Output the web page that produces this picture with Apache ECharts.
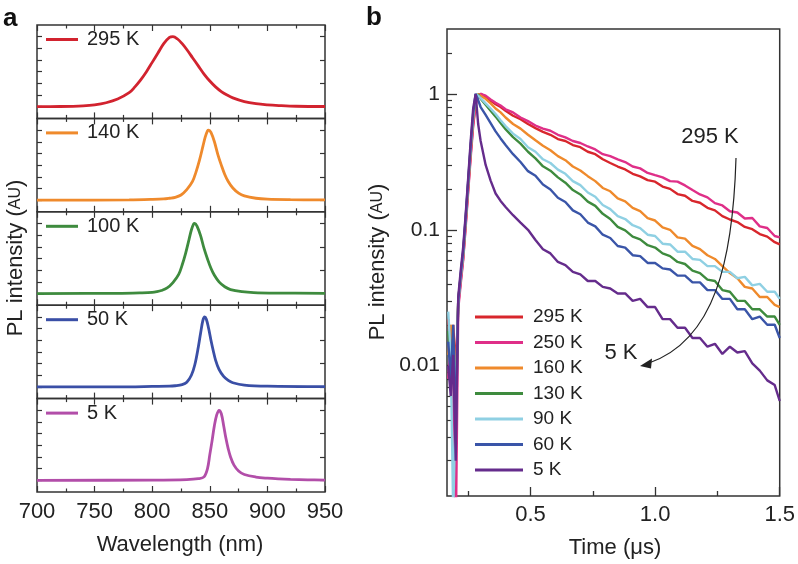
<!DOCTYPE html>
<html><head><meta charset="utf-8">
<script src="https://cdn.jsdelivr.net/npm/echarts@6/dist/echarts.min.js"></script>
<style>html,body{margin:0;padding:0;background:#fff}#c{width:798px;height:564px}</style>
</head><body><div id="c"></div>
<script>
// ---------- Panel a: PL spectra (normalised, peak = 3) ----------
const wl295 = [700,720,740,750,760,770,780,785,790,795,800,805,810,815,818,822,826,830,835,840,845,850,855,860,865,870,880,890,900,910,925,950];
const pl295 = [0,0.01,0.04,0.08,0.17,0.33,0.6,0.85,1.15,1.5,1.9,2.3,2.7,2.97,3.0,2.9,2.7,2.45,2.1,1.75,1.4,1.1,0.85,0.65,0.5,0.38,0.22,0.13,0.08,0.05,0.02,0.01];
const wl140 = [700,780,800,810,815,820,825,830,835,838,841,844,846,848,849,851,854,857,860,863,866,870,875,880,890,900,920,950];
const pl140 = [0,0.01,0.03,0.05,0.08,0.12,0.22,0.45,0.8,1.2,1.7,2.3,2.7,2.97,3.0,2.9,2.5,1.95,1.5,1.1,0.8,0.52,0.3,0.18,0.08,0.04,0.02,0.01];
const wl100 = [700,770,790,800,804,808,813,818,823,826,829,832,834,836,837,839,842,845,848,851,854,858,863,868,878,888,908,950];
const pl100 = [0,0.01,0.03,0.05,0.08,0.13,0.24,0.47,0.82,1.22,1.72,2.32,2.72,2.98,3.0,2.88,2.48,1.93,1.48,1.08,0.78,0.5,0.29,0.17,0.08,0.04,0.02,0.01];
const wl50 = [700,780,800,815,820,826,830,834,837,840,842,844,845.5,847,849,851,853,855,858,862,866,870,880,900,950];
const pl50 = [0,0.005,0.02,0.03,0.05,0.1,0.2,0.5,0.95,1.7,2.3,2.85,3.0,2.9,2.5,2.0,1.55,1.15,0.75,0.45,0.28,0.18,0.08,0.03,0.01];
const wl5 = [700,800,830,840,845,848,850,852,854,856,858,860,862,864,866,868,871,875,880,890,900,910,920,935,950];
const pl5 = [0,0.01,0.03,0.07,0.15,0.5,1.1,1.7,2.35,2.8,3.0,2.85,2.35,1.8,1.35,1.0,0.65,0.4,0.25,0.14,0.09,0.06,0.04,0.02,0.01];
const namesA = ['295 K','140 K','100 K','50 K','5 K'];
const colorsA = ['#d2232f','#ef8a2c','#3e8b3e','#3a4fa6','#b24ea9'];

// ---------- Panel b: PL decay (log scale) ----------
const time = [0.17,0.18,0.19,0.20,0.21,0.22,0.23,0.24,0.25,0.26,0.27,0.28,0.29,
  0.30,0.32,0.34,0.36,0.38,0.40,
  0.43,0.46,0.49,0.52,0.55,0.58,0.61,0.64,0.67,0.70,
  0.73,0.76,0.79,0.82,0.85,0.88,0.91,0.94,0.97,1.00,
  1.03,1.06,1.09,1.12,1.15,1.18,1.21,1.24,1.27,1.30,
  1.33,1.36,1.39,1.42,1.45,1.48,1.50];
const d295 = [0.022,0.014,0.02,0.009,0.028,0.042,0.062,0.11,0.2,0.36,0.6,0.85,0.97,
  1.0,0.95,0.89,0.84,0.8,0.75,
  0.69,0.65,0.6,0.56,0.525,0.5,0.465,0.45,0.42,0.405,
  0.375,0.36,0.33,0.31,0.292,0.278,0.258,0.247,0.232,0.226,
  0.208,0.2,0.183,0.178,0.163,0.158,0.145,0.139,0.126,0.119,
  0.114,0.105,0.101,0.093,0.089,0.081,0.078];
const d250 = [0.008,0.015,0.006,0.0005,0.026,0.04,0.06,0.105,0.19,0.34,0.58,0.83,0.96,
  1.0,0.97,0.91,0.86,0.82,0.77,
  0.73,0.67,0.63,0.585,0.555,0.535,0.5,0.478,0.45,0.435,
  0.41,0.39,0.36,0.348,0.33,0.315,0.292,0.283,0.262,0.252,
  0.243,0.228,0.226,0.212,0.196,0.182,0.173,0.157,0.151,0.137,
  0.134,0.121,0.122,0.106,0.103,0.09,0.088];
const d160 = [0.012,0.02,0.01,0.004,0.03,0.045,0.066,0.115,0.21,0.38,0.65,0.9,1.0,
  0.97,0.92,0.85,0.78,0.73,0.67,
  0.6,0.555,0.5,0.455,0.415,0.385,0.348,0.325,0.292,0.273,
  0.248,0.228,0.203,0.192,0.17,0.162,0.145,0.137,0.122,0.117,
  0.104,0.1,0.088,0.086,0.076,0.072,0.065,0.061,0.054,0.048,
  0.044,0.038,0.037,0.032,0.032,0.028,0.027];
const d130 = [0.018,0.01,0.016,0.005,0.03,0.046,0.068,0.12,0.22,0.4,0.68,0.93,0.99,
  0.92,0.83,0.75,0.68,0.61,0.55,
  0.48,0.43,0.375,0.335,0.293,0.272,0.243,0.222,0.196,0.182,
  0.161,0.15,0.131,0.12,0.105,0.099,0.089,0.085,0.077,0.074,
  0.067,0.064,0.058,0.056,0.05,0.048,0.043,0.042,0.036,0.035,
  0.03,0.03,0.026,0.026,0.023,0.023,0.02];
const d90 = [0.025,0.012,0.0008,0.006,0.029,0.045,0.067,0.12,0.22,0.4,0.68,1.0,0.97,
  0.93,0.85,0.78,0.71,0.64,0.58,
  0.51,0.465,0.405,0.375,0.33,0.31,0.277,0.258,0.228,0.213,
  0.188,0.175,0.152,0.142,0.126,0.12,0.108,0.103,0.092,0.09,
  0.079,0.078,0.069,0.069,0.061,0.06,0.054,0.054,0.049,0.049,
  0.044,0.045,0.039,0.04,0.035,0.035,0.031];
const d60 = [0.015,0.008,0.02,0.003,0.03,0.047,0.07,0.125,0.23,0.42,0.72,1.0,0.9,
  0.8,0.7,0.61,0.53,0.47,0.42,
  0.36,0.315,0.27,0.25,0.215,0.198,0.172,0.16,0.139,0.13,
  0.113,0.106,0.092,0.087,0.076,0.074,0.065,0.064,0.057,0.057,
  0.052,0.051,0.046,0.046,0.041,0.041,0.036,0.036,0.031,0.031,
  0.026,0.026,0.022,0.023,0.02,0.02,0.016];
const d5 = [0.01,0.006,0.012,0.002,0.032,0.05,0.075,0.13,0.24,0.45,0.78,1.0,0.6,
  0.45,0.3,0.23,0.185,0.163,0.147,
  0.128,0.113,0.1,0.084,0.072,0.067,0.058,0.055,0.049,0.047,
  0.042,0.042,0.038,0.037,0.034,0.034,0.03,0.031,0.027,0.027,
  0.022,0.022,0.019,0.019,0.016,0.016,0.0138,0.0145,0.0122,0.0138,
  0.0125,0.0128,0.0104,0.0092,0.0078,0.0072,0.0055];
const namesB = ['295 K','250 K','160 K','130 K','90 K','60 K','5 K'];
const colorsB = ['#d8262c','#df2f88','#ef8a2c','#3e8b3e','#8fd0e3','#3a55a8','#652c8c'];
const wlTicks = [700,750,800,850,900,950];
const wlMinorTicks = [725,775,825,875,925];
const timeTicks = [0.5,1.0,1.5];
const timeMinorTicks = [0.25,0.75,1.25];
const intensityTicks = [0.01,0.1,1];
const intensityMinorTicks = [0.002,0.003,0.004,0.005,0.006,0.007,0.008,0.009,
  0.02,0.03,0.04,0.05,0.06,0.07,0.08,0.09,0.2,0.3,0.4,0.5,0.6,0.7,0.8,0.9,2];

const FONT = 'Liberation Sans';
const AX = '#333';
const specX = [wl295,wl140,wl100,wl50,wl5];
const specY = [pl295,pl140,pl100,pl50,pl5];
const decay = [d295,d250,d160,d130,d90,d60,d5];

const PT = 25, PH = 93.4;
const grid = [], xAxis = [], yAxis = [], series = [], legend = [];
const noLine = {show:false, onZero:false};
for (let i = 0; i < 5; i++) {
  grid.push({left:37, width:288, top:PT + i*PH, height:PH, show:true, borderColor:AX, borderWidth:1.5, backgroundColor:'transparent'});
  // indices: 4i bottom-major, 4i+1 bottom-minor, 4i+2 top-major, 4i+3 top-minor
  ['bottom','top'].forEach(pos => {
    xAxis.push({type:'value', gridIndex:i, position:pos, min:700, max:950,
      axisLine:noLine, splitLine:{show:false},
      axisTick:{show:true, inside:true, length:6, customValues:wlTicks, lineStyle:{color:AX, width:1.2}},
      axisLabel:{show:(i===4 && pos==='bottom'), customValues:wlTicks, fontSize:22, color:'#222', margin:9, fontFamily:FONT}});
    xAxis.push({type:'value', gridIndex:i, position:pos, min:700, max:950,
      axisLine:noLine, splitLine:{show:false}, axisLabel:{show:false},
      axisTick:{show:true, inside:true, length:3.5, customValues:wlMinorTicks, lineStyle:{color:AX, width:1.2}}});
  });
  yAxis.push({type:'value', gridIndex:i, position:'left', min:-0.5, max:3.5,
    axisLine:noLine, splitLine:{show:false}, axisLabel:{show:false},
    axisTick:{show:true, inside:true, length:5, customValues:[0,0.5,1,1.5,2,2.5,3], lineStyle:{color:AX, width:1.2}}});
  yAxis.push({type:'value', gridIndex:i, position:'right', min:-0.5, max:3.5,
    axisLine:noLine, splitLine:{show:false}, axisLabel:{show:false},
    axisTick:{show:true, inside:true, length:5, customValues:[0,1,2,3], lineStyle:{color:AX, width:1.2}}});
  series.push({type:'line', name:namesA[i] + ' ', xAxisIndex:4*i, yAxisIndex:2*i,
    data: specX[i].map((w,k) => [w, specY[i][k]]), showSymbol:false, symbol:'none', smooth:0.35,
    color:colorsA[i], lineStyle:{color:colorsA[i], width:2.8}});
  legend.push({data:[namesA[i] + ' '], left:46, top:PT + i*PH + 4.5, padding:0, icon:'rect', itemWidth:32, itemHeight:3,
    selectedMode:false, textStyle:{fontSize:20, color:'#222', fontFamily:FONT, lineHeight:20, padding:[0,0,0,4]}});
}
// panel b (xAxis 20, 21; yAxis 10, 11)
grid.push({left:447, width:336, top:29, height:467, show:true, borderColor:AX, borderWidth:1.5, backgroundColor:'transparent'});
xAxis.push({type:'value', gridIndex:5, position:'bottom', min:0.165, max:1.5,
  axisLine:noLine, splitLine:{show:false},
  axisTick:{show:true, inside:true, length:9, customValues:timeTicks, lineStyle:{color:AX, width:1.3}},
  axisLabel:{customValues:timeTicks, formatter:v => Number(v).toFixed(1), fontSize:22, color:'#222', margin:8, fontFamily:FONT}});
xAxis.push({type:'value', gridIndex:5, position:'bottom', min:0.165, max:1.5,
  axisLine:noLine, splitLine:{show:false}, axisLabel:{show:false},
  axisTick:{show:true, inside:true, length:5, customValues:timeMinorTicks, lineStyle:{color:AX, width:1.3}}});
yAxis.push({type:'log', gridIndex:5, position:'left', min:0.0011, max:3, logBase:10,
  axisLine:noLine, splitLine:{show:false},
  axisTick:{show:true, inside:true, length:10, customValues:intensityTicks, lineStyle:{color:AX, width:1.3}},
  axisLabel:{customValues:intensityTicks, fontSize:21, color:'#222', margin:7, fontFamily:FONT,
    formatter:v => (Math.abs(v-1)<1e-6 ? '1' : Math.abs(v-0.1)<1e-6 ? '0.1' : '0.01')}});
yAxis.push({type:'log', gridIndex:5, position:'left', min:0.0011, max:3, logBase:10,
  axisLine:noLine, splitLine:{show:false}, axisLabel:{show:false},
  axisTick:{show:true, inside:true, length:5, customValues:intensityMinorTicks, lineStyle:{color:AX, width:1.2}}});
for (let j = 0; j < 7; j++) {
  series.push({type:'line', name:namesB[j], xAxisIndex:20, yAxisIndex:10,
    data: time.map((t,k) => [t, decay[j][k]]), showSymbol:false, symbol:'none', smooth:false, clip:true,
    color:colorsB[j], lineStyle:{color:colorsB[j], width:2.4}, z:2+j});
}
legend.push({data:namesB, orient:'vertical', left:475, top:307, padding:0, icon:'rect', itemWidth:48, itemHeight:3, itemGap:5.5,
  selectedMode:false, textStyle:{fontSize:19, color:'#222', fontFamily:FONT, lineHeight:20, padding:[0,0,0,5]}});

const txt = (x, y, text, size) => ({type:'text', x:x, y:y, z:100,
  style:{text:text, fontSize:size, fontFamily:FONT, fill:'#222', align:'center', verticalAlign:'middle'}});

const graphic = [
  {type:'text', x:3, y:19, z:100, style:{text:'a', fontSize:26, fontWeight:'bold', fontFamily:FONT, fill:'#111', align:'left', verticalAlign:'middle'}},
  {type:'text', x:366, y:18, z:100, style:{text:'b', fontSize:26, fontWeight:'bold', fontFamily:FONT, fill:'#111', align:'left', verticalAlign:'middle'}},
  txt(180, 545, 'Wavelength (nm)', 22),
  txt(615, 548, 'Time (\u03bcs)', 22),
  {type:'text', x:16, y:258, rotation:Math.PI/2, z:100,
    style:{text:'PL intensity ({s|AU})', fontSize:22, fontFamily:FONT, fill:'#222', align:'center', verticalAlign:'middle',
      rich:{s:{fontSize:16, fontFamily:FONT, fill:'#222'}}}},
  {type:'text', x:378, y:262, rotation:Math.PI/2, z:100,
    style:{text:'PL intensity ({s|AU})', fontSize:22, fontFamily:FONT, fill:'#222', align:'center', verticalAlign:'middle',
      rich:{s:{fontSize:16, fontFamily:FONT, fill:'#222'}}}},
  txt(710, 137, '295 K', 22),
  txt(621, 353, '5 K', 22),
  {type:'bezierCurve', z:100, shape:{x1:736, y1:158, cpx1:733, cpy1:260, cpx2:715, cpy2:340, x2:649, y2:363},
    style:{stroke:'#222', lineWidth:1.2, fill:null}},
  {type:'polygon', z:100, shape:{points:[[640,366],[652,358.5],[651,368.5]]}, style:{fill:'#222'}}
];

const chart = echarts.init(document.getElementById('c'), null, {renderer:'canvas'});
chart.setOption({
  animation:false,
  backgroundColor:'#fff',
  textStyle:{fontFamily:FONT},
  grid:grid, xAxis:xAxis, yAxis:yAxis, series:series, legend:legend, graphic:graphic
});
</script></body></html>
